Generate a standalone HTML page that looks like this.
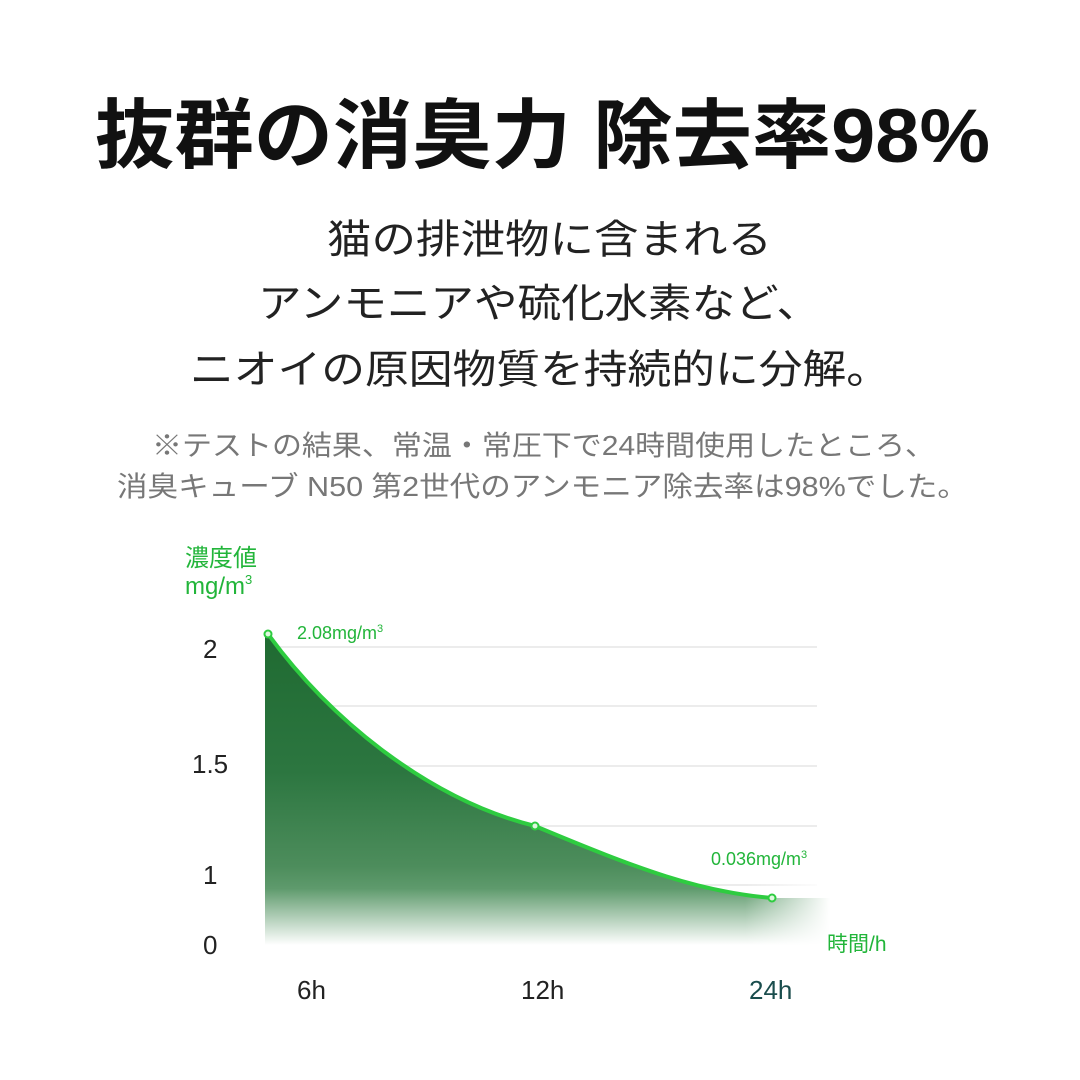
<!DOCTYPE html>
<html><head><meta charset="utf-8"><style>
html,body{margin:0;padding:0;background:#fff;}
svg{display:block;}
text{font-family:"Liberation Sans","Noto Sans CJK JP",sans-serif;}
</style></head><body>
<svg width="1080" height="1080" viewBox="0 0 1080 1080" xmlns="http://www.w3.org/2000/svg">
<defs>
<linearGradient id="gv" gradientUnits="userSpaceOnUse" x1="0" y1="630" x2="0" y2="945">
<stop offset="0" stop-color="#1f6a31"/>
<stop offset="0.45" stop-color="#2c7640"/>
<stop offset="0.75" stop-color="#4d8d5c"/>
<stop offset="0.82" stop-color="#5e9a6c"/>
<stop offset="1" stop-color="#ffffff"/>
</linearGradient>
<linearGradient id="gh" gradientUnits="userSpaceOnUse" x1="265" y1="0" x2="830" y2="0">
<stop offset="0" stop-color="#ffffff" stop-opacity="0"/>
<stop offset="0.85" stop-color="#ffffff" stop-opacity="0"/>
<stop offset="1" stop-color="#ffffff" stop-opacity="1"/>
</linearGradient>
</defs>
<text x="95" y="162" font-size="76" font-weight="bold" fill="#111" textLength="895" lengthAdjust="spacingAndGlyphs">抜群の消臭力 除去率98%</text>
<g fill="#222" font-size="40">
<text x="327" y="253" textLength="445" lengthAdjust="spacingAndGlyphs">猫の排泄物に含まれる</text>
<text x="258" y="317" textLength="562" lengthAdjust="spacingAndGlyphs">アンモニアや硫化水素など、</text>
<text x="190" y="383" textLength="700" lengthAdjust="spacingAndGlyphs">ニオイの原因物質を持続的に分解。</text>
</g>
<g fill="#777" font-size="28">
<text x="152" y="455" textLength="783" lengthAdjust="spacingAndGlyphs">※テストの結果、常温・常圧下で24時間使用したところ、</text>
<text x="117" y="496" textLength="851" lengthAdjust="spacingAndGlyphs">消臭キューブ N50 第2世代のアンモニア除去率は98%でした。</text>
</g>
<g stroke="#ececec" stroke-width="2">
<line x1="265" y1="647" x2="817" y2="647"/>
<line x1="265" y1="706" x2="817" y2="706"/>
<line x1="265" y1="766" x2="817" y2="766"/>
<line x1="265" y1="826" x2="817" y2="826"/>
<line x1="265" y1="885" x2="817" y2="885"/>
<line x1="265" y1="944" x2="817" y2="944"/>
</g>
<path d="M265 634 L268 634 C330 720 430 800 535 826 C640 870 700 892 772 898 L830 898 L830 945 L265 945 Z" fill="url(#gv)"/>
<rect x="265" y="880" width="570" height="70" fill="url(#gh)"/>
<path d="M268 634 C330 720 430 800 535 826 C640 870 700 892 772 898" fill="none" stroke="#2ecc40" stroke-width="4"/>
<g fill="#dff7df" stroke="#2ecc40" stroke-width="2">
<circle cx="268" cy="634" r="3.5"/><circle cx="535" cy="826" r="3.5"/><circle cx="772" cy="898" r="3.5"/>
</g>
<g fill="#22b53a">
<text x="185" y="566" font-size="24">濃度値</text>
<text x="185" y="594" font-size="24">mg/m<tspan font-size="13" dy="-10">3</tspan></text>
<text x="297" y="639" font-size="18">2.08mg/m<tspan font-size="11" dy="-7">3</tspan></text>
<text x="711" y="865" font-size="18">0.036mg/m<tspan font-size="11" dy="-7">3</tspan></text>
<text x="827" y="951" font-size="21">時間/h</text>
</g>
<g fill="#222" font-size="26">
<text x="203" y="658">2</text>
<text x="192" y="773">1.5</text>
<text x="203" y="884">1</text>
<text x="203" y="954">0</text>
<text x="297" y="999">6h</text>
<text x="521" y="999">12h</text>
<text x="749" y="999" fill="#1a4d4d">24h</text>
</g>
</svg>
</body></html>
